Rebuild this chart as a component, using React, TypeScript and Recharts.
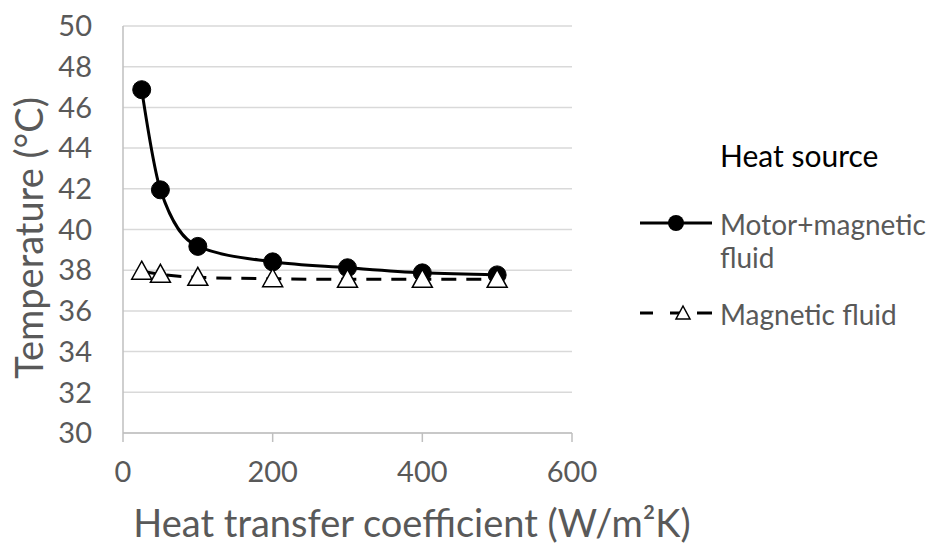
import React from 'react';
import {
  LineChart,
  Line,
  XAxis,
  YAxis,
  CartesianGrid,
  Legend,
} from 'recharts';

// heat transfer coefficient (W/m2K)
const coefficients = [25, 50, 100, 200, 300, 400, 500];
// temperature (°C)
const motorFluid = [46.87, 41.95, 39.17, 38.41, 38.12, 37.87, 37.77];
const magneticFluid = [37.95, 37.8, 37.65, 37.58, 37.55, 37.55, 37.55];

const xTicks = [0, 200, 400, 600];
const yTicks = [30, 32, 34, 36, 38, 40, 42, 44, 46, 48, 50];

const FONT = 'Lato, "Open Sans", sans-serif';
const GREY = '#595959';

const chartData = coefficients.map((c, i) => ({
  h: c,
  motor: motorFluid[i],
  magnetic: magneticFluid[i],
}));

const Triangle = (props: any) => {
  const { cx, cy } = props;
  if (cx == null || cy == null) return null;
  return (
    <path
      d={`M${cx},${cy - 10} L${cx + 10},${cy + 8} L${cx - 10},${cy + 8} Z`}
      fill="#fff"
      stroke="#000"
      strokeWidth={1.5}
    />
  );
};

// axis titles, placed like the Excel original
const YTitle = () => (
  <text
    x={28}
    y={238}
    transform="rotate(-90 28 238)"
    textAnchor="middle"
    dominantBaseline="central"
    fill={GREY}
    fontSize={38}
    fontFamily={FONT}
  >
    Temperature (°C)
  </text>
);

const XTitle = () => (
  <text x={412} y={537} textAnchor="middle" fill={GREY} fontSize={38} fontFamily={FONT}>
    Heat transfer coefficient (W/m²K)
  </text>
);

const order = ['motor', 'magnetic'];

const LegendBox = ({ payload }: any) => {
  const items = order
    .map((k) => (payload || []).find((p: any) => p.dataKey === k))
    .filter(Boolean);
  let y = 83;
  return (
    <svg width={293} height={200} style={{ position: 'absolute', left: 0, top: 0, overflow: 'visible' }}>
      <text x={84} y={27} fontSize={30} fontFamily={FONT} fill="#000">
        Heat source
      </text>
      {items.map((it: any) => {
        const dashed = it.dataKey === 'magnetic';
        const words = dashed ? [it.value] : String(it.value).split(' ');
        const rowY = y;
        y += dashed ? 0 : 90;
        return (
          <g key={it.dataKey}>
            {dashed ? (
              <g>
                <line x1={4} y1={rowY} x2={17} y2={rowY} stroke="#000" strokeWidth={3} />
                <line x1={61} y1={rowY} x2={76} y2={rowY} stroke="#000" strokeWidth={3} />
                <line x1={34} y1={rowY} x2={44} y2={rowY} stroke="#000" strokeWidth={3} />
                <path
                  d={`M47,${rowY - 7} L54,${rowY + 6} L40,${rowY + 6} Z`}
                  fill="#fff"
                  stroke="#000"
                  strokeWidth={1.5}
                />
              </g>
            ) : (
              <g>
                <line x1={4} y1={rowY} x2={76} y2={rowY} stroke="#000" strokeWidth={3} />
                <circle cx={40} cy={rowY} r={8} fill="#000" />
              </g>
            )}
            <text x={84} y={rowY + 12} fontSize={28} fontFamily={FONT} fill={GREY}>
              {words.length > 1 ? (
                <>
                  <tspan x={84}>{words[0]}</tspan>
                  <tspan x={84} dy={33}>
                    {words.slice(1).join(' ')}
                  </tspan>
                </>
              ) : (
                words[0]
              )}
            </text>
          </g>
        );
      })}
    </svg>
  );
};

export default function App() {
  return (
    <div style={{ position: 'absolute', left: 0, top: 0, width: 929, height: 546, background: '#fff' }}>
      <LineChart
        width={929}
        height={546}
        data={chartData}
        margin={{ top: 26, right: 357, left: 0, bottom: 60 }}
      >
        <CartesianGrid horizontal={true} vertical={false} stroke="#d9d9d9" strokeWidth={1.5} />
        <XAxis
          dataKey="h"
          type="number"
          domain={[0, 600]}
          ticks={xTicks}
          axisLine={{ stroke: '#bfbfbf', strokeWidth: 1.5 }}
          tickLine={{ stroke: '#bfbfbf', strokeWidth: 1.5 }}
          tickSize={9}
          height={53}
          tick={{ fill: GREY, fontSize: 29, fontFamily: FONT }}
          tickMargin={19}
          label={<XTitle />}
        />
        <YAxis
          type="number"
          domain={[30, 50]}
          ticks={yTicks}
          interval={0}
          width={123}
          axisLine={{ stroke: '#bfbfbf', strokeWidth: 1.5 }}
          tickLine={false}
          tickSize={0}
          tick={{ fill: GREY, fontSize: 29, fontFamily: FONT }}
          tickMargin={31}
          label={<YTitle />}
        />
        <Line
          dataKey="motor"
          name="Motor+magnetic fluid"
          type="monotone"
          stroke="#000"
          strokeWidth={3}
          dot={{ r: 9, fill: '#000', stroke: '#000', strokeWidth: 1 }}
          isAnimationActive={false}
        />
        <Line
          dataKey="magnetic"
          name="Magnetic fluid"
          type="monotone"
          stroke="#000"
          strokeWidth={3}
          strokeDasharray="15 10"
          dot={<Triangle />}
          isAnimationActive={false}
        />
        <Legend
          layout="vertical"
          verticalAlign="top"
          align="right"
          content={<LegendBox />}
          wrapperStyle={{ position: 'absolute', left: 636, top: 140, width: 0, height: 0, overflow: 'visible' }}
        />
      </LineChart>
    </div>
  );
}
